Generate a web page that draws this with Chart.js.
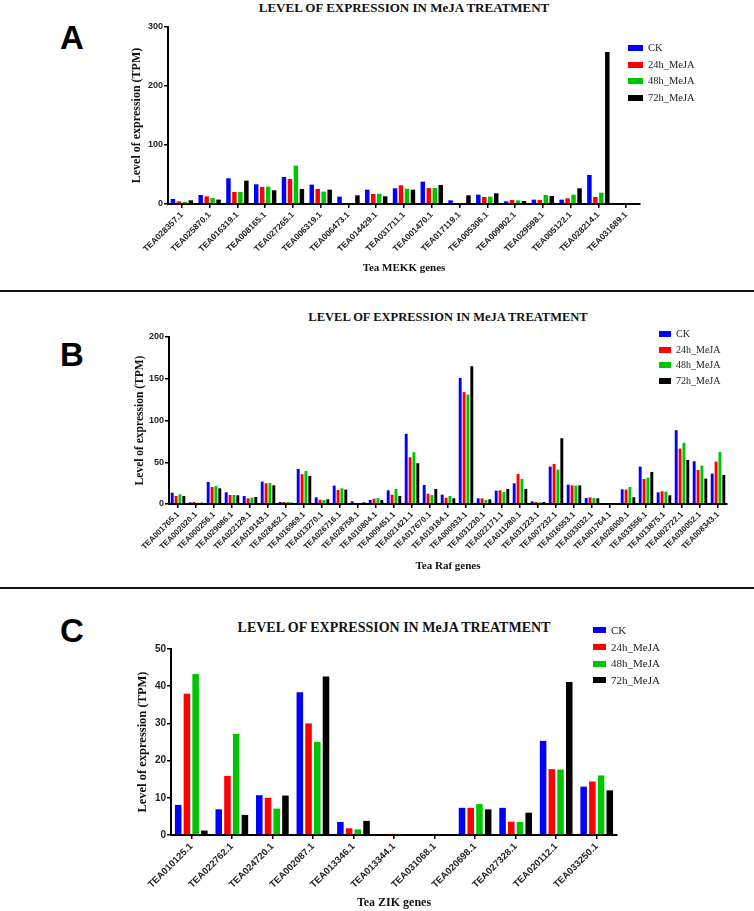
<!DOCTYPE html>
<html>

<head>
    <meta charset="utf-8">
    <title>Level of expression in MeJA treatment</title>
    <script src="https://cdn.jsdelivr.net/npm/chart.js@4.4.0/dist/chart.umd.min.js"></script>
    <style>
        body { margin: 0; background: #fff; }
        #page { position: relative; width: 754px; height: 911px; overflow: hidden; }
        canvas { position: absolute; left: 0; }
        .letter { position: absolute; font: bold 33px "Liberation Sans", Arial, sans-serif; line-height: 1; color: #000; }
        .title { position: absolute; font-family: "Liberation Serif", "Times New Roman", serif; font-weight: bold;
                 white-space: nowrap; transform: translate(-50%, -50%); color: #111; }
        .sep { position: absolute; left: 0; width: 754px; height: 2px; background: #111; }
        .legend { position: absolute; font-family: "Liberation Serif", "Times New Roman", serif; color: #222; }
        .legend div { position: relative; white-space: nowrap; }
        .legend span { position: absolute; left: 0; top: 50%; transform: translateY(-50%); }
    </style>
</head>

<body>
    <div id="page">
        <div class="letter" style="left:60px; top:21px;">A</div>
        <div class="title" style="left:404px; top:8px; font-size:13px;">LEVEL OF EXPRESSION IN MeJA TREATMENT</div>
        <canvas id="chartA" width="754" height="290" style="top:0px;"></canvas>
        <div class="legend" id="legendA" style="left:628px; top:40px; font-size:10.5px;"></div>

        <div class="sep" style="top:290px;"></div>

        <div class="letter" style="left:60px; top:338px;">B</div>
        <div class="title" style="left:448px; top:317px; font-size:12.5px;">LEVEL OF EXPRESSION IN MeJA TREATMENT</div>
        <canvas id="chartB" width="754" height="295" style="top:292px;"></canvas>
        <div class="legend" id="legendB" style="left:659px; top:326px; font-size:10px;"></div>

        <div class="sep" style="top:587px;"></div>

        <div class="letter" style="left:60px; top:614px;">C</div>
        <div class="title" style="left:394px; top:628px; font-size:14px;">LEVEL OF EXPRESSION IN MeJA TREATMENT</div>
        <canvas id="chartC" width="754" height="322" style="top:589px;"></canvas>
        <div class="legend" id="legendC" style="left:593px; top:622px; font-size:11px;"></div>
    </div>

    <script>
        // series shared by the three panels
        var seriesNames = ['CK', '24h_MeJA', '48h_MeJA', '72h_MeJA'];
        var seriesColors = ['#0000ff', '#ff0000', '#00c400', '#000000'];

        // A - Tea MEKK genes
        var mekkGenes = ['TEA028357.1', 'TEA025870.1', 'TEA016319.1', 'TEA008165.1', 'TEA027265.1', 'TEA006319.1',
            'TEA006473.1', 'TEA014429.1', 'TEA031711.1', 'TEA001470.1', 'TEA017119.1', 'TEA005306.1',
            'TEA009902.1', 'TEA029598.1', 'TEA005122.1', 'TEA028214.1', 'TEA031689.1'];
        var mekkCK = [8.5, 15.3, 43.6, 33.4, 45.8, 32.8, 12.5, 24.3, 26.6, 37.9, 6.2, 15.8, 4.5, 7.4, 7.4, 49.2, 0];
        var mekk24h = [4.5, 13, 20.4, 28.9, 42.4, 25.5, 0, 17, 31.7, 27.2, 0, 11.9, 6.8, 6.8, 9.6, 11.9, 0];
        var mekk48h = [3.4, 10, 20.4, 29.4, 65, 21, 0, 17.5, 26, 27.2, 1.5, 12.5, 6.2, 15.3, 15.8, 19.2, 0];
        var mekk72h = [6.2, 7.4, 39.6, 23.2, 25.5, 24.3, 14.7, 13, 24.3, 32.3, 14.7, 18.1, 5.1, 13.6, 26.6, 257.5, 0];
        var mekkTicks = [0, 100, 200, 300];

        // B - Tea Raf genes
        var rafGenes = ['TEA001765.1', 'TEA002020.1', 'TEA000256.1', 'TEA029086.1', 'TEA022129.1', 'TEA019143.1',
            'TEA028452.1', 'TEA016969.1', 'TEA013270.1', 'TEA026716.1', 'TEA028758.1', 'TEA010804.1',
            'TEA009451.1', 'TEA021421.1', 'TEA017670.1', 'TEA019184.1', 'TEA000933.1', 'TEA031230.1',
            'TEA022171.1', 'TEA011280.1', 'TEA031223.1', 'TEA007232.1', 'TEA016553.1', 'TEA033032.1',
            'TEA001764.1', 'TEA026000.1', 'TEA033556.1', 'TEA013875.1', 'TEA002722.1', 'TEA030052.1',
            'TEA008343.1'];
        var rafCK = [13.6, 2, 26.4, 14, 9.6, 26.8, 2.4, 42, 8, 22, 3.2, 4.8, 16.4, 84, 22.8, 11.2, 151, 6.8, 16, 24.8,
            3.2, 44.8, 23.2, 7.2, 0, 17.6, 44.8, 14, 88.4, 51.2, 36.4];
        var raf24h = [9.6, 2.4, 20.4, 10.8, 6.8, 24.8, 2.4, 35.6, 5.2, 16.8, 1.2, 6.4, 11.2, 56, 12.4, 7.6, 134, 6.8, 16.4, 36,
            2.4, 48, 22.4, 8, 0, 17.2, 30, 15.2, 66.4, 40.8, 50.8];
        var raf48h = [11.6, 1.6, 21.6, 10.8, 7.6, 25.2, 2.4, 39.6, 4.8, 18.8, 0.8, 7.2, 18, 62, 10.8, 9.6, 131, 4.8, 14.4, 30,
            2, 41.2, 22, 7.2, 0, 20.4, 31.6, 14.8, 73.2, 46, 62.4];
        var raf72h = [9.6, 1.6, 18.8, 10.4, 8.4, 22.4, 1.6, 33.6, 5.6, 17.2, 2, 4.8, 9.6, 48.8, 18, 6.8, 165, 5.6, 18, 18,
            2.4, 78.8, 22.4, 6.8, 0, 8, 38.4, 10.4, 52.8, 30.4, 34.8];
        var rafTicks = [0, 50, 100, 150, 200];

        // C - Tea ZIK genes
        var zikGenes = ['TEA010125.1', 'TEA022762.1', 'TEA024720.1', 'TEA002087.1', 'TEA013346.1', 'TEA013344.1',
            'TEA031068.1', 'TEA020698.1', 'TEA027328.1', 'TEA020112.1', 'TEA033250.1'];
        var zikCK = [8.1, 6.9, 10.7, 38.4, 3.5, 0, 0.2, 7.3, 7.3, 25.3, 13];
        var zik24h = [38, 15.9, 10, 30, 1.8, 0.3, 0, 7.3, 3.6, 17.7, 14.4];
        var zik48h = [43.3, 27.2, 7.1, 25, 1.5, 0.3, 0, 8.3, 3.5, 17.6, 16];
        var zik72h = [1.2, 5.4, 10.6, 42.6, 3.8, 0, 0, 6.9, 6.0, 41.1, 12];
        var zikTicks = [0, 10, 20, 30, 40, 50];

        var serif = '"Liberation Serif", "Times New Roman", serif';
        var sans = '"Liberation Sans", Arial, sans-serif';

        function buildLegend(id, swatchW, rowH) {
            var box = document.getElementById(id);
            seriesNames.forEach(function (name, i) {
                var row = document.createElement('div');
                row.style.height = rowH + 'px';
                row.style.lineHeight = rowH + 'px';
                row.style.paddingLeft = (swatchW + 5) + 'px';
                var sw = document.createElement('span');
                sw.style.width = swatchW + 'px';
                sw.style.height = '6px';
                sw.style.background = seriesColors[i];
                row.appendChild(sw);
                row.appendChild(document.createTextNode(name));
                box.appendChild(row);
            });
        }

        // one grouped bar chart; box = where the plot area and axes go
        function makeChart(id, genes, series, ticks, xTitle, box) {
            var datasets = series.map(function (values, i) {
                return {
                    label: seriesNames[i],
                    data: values,
                    backgroundColor: seriesColors[i],
                    borderWidth: 0,
                    categoryPercentage: 0.86,
                    barPercentage: 0.75
                };
            });

            return new Chart(document.getElementById(id), {
                type: 'bar',
                data: { labels: genes, datasets: datasets },
                options: {
                    responsive: false,
                    animation: false,
                    layout: { padding: box.padding },
                    plugins: { legend: { display: false }, tooltip: { enabled: false } },
                    scales: {
                        x: {
                            grid: { display: true, drawOnChartArea: false, offset: false, tickLength: 4, color: '#000', lineWidth: 1.5 },
                            border: { display: true, color: '#000', width: 2 },
                            ticks: {
                                autoSkip: false, minRotation: 45, maxRotation: 45, padding: 2, color: '#222',
                                font: { family: sans, size: box.xTickSize, weight: 'bold' }
                            },
                            title: {
                                display: true, text: xTitle, color: '#111', padding: 0,
                                font: { family: serif, size: box.xTitleSize, weight: 'bold' }
                            },
                            afterFit: function (scale) { scale.height = box.xHeight; }
                        },
                        y: {
                            min: ticks[0],
                            max: ticks[ticks.length - 1],
                            afterBuildTicks: function (scale) {
                                scale.ticks = ticks.map(function (v) { return { value: v }; });
                            },
                            grid: { display: true, drawOnChartArea: false, tickLength: 4, color: '#000', lineWidth: 1.5 },
                            border: { display: true, color: '#000', width: 2 },
                            ticks: {
                                padding: 1, color: '#222',
                                font: { family: sans, size: box.yTickSize, weight: 'bold' }
                            },
                            title: {
                                display: true, text: 'Level of expression (TPM)', color: '#111', padding: 0,
                                font: { family: serif, size: box.yTitleSize, weight: 'bold' }
                            },
                            afterFit: function (scale) { scale.width = box.yWidth; }
                        }
                    }
                }
            });
        }

        buildLegend('legendA', 15, 16.5);
        buildLegend('legendB', 12, 15.7);
        buildLegend('legendC', 13, 16.7);

        makeChart('chartA', mekkGenes, [mekkCK, mekk24h, mekk48h, mekk72h], mekkTicks, 'Tea MEKK genes', {
            padding: { left: 129.8, right: 114, top: 27, bottom: 15.5 },
            yWidth: 38.2, xHeight: 70.5,
            xTickSize: 8.5, yTickSize: 9, xTitleSize: 11, yTitleSize: 12
        });

        makeChart('chartB', rafGenes, [rafCK, raf24h, raf48h, raf72h], rafTicks, 'Tea Raf genes', {
            padding: { left: 133.1, right: 27, top: 45, bottom: 14.5 },
            yWidth: 35.9, xHeight: 68.5,
            xTickSize: 8, yTickSize: 9, xTitleSize: 11, yTitleSize: 11.5
        });

        makeChart('chartC', zikGenes, [zikCK, zik24h, zik48h, zik72h], zikTicks, 'Tea ZIK genes', {
            padding: { left: 135.5, right: 137, top: 60, bottom: 0.8 },
            yWidth: 35.5, xHeight: 75.2,
            xTickSize: 9.5, yTickSize: 10, xTitleSize: 12, yTitleSize: 12.5
        });
    </script>
</body>

</html>
